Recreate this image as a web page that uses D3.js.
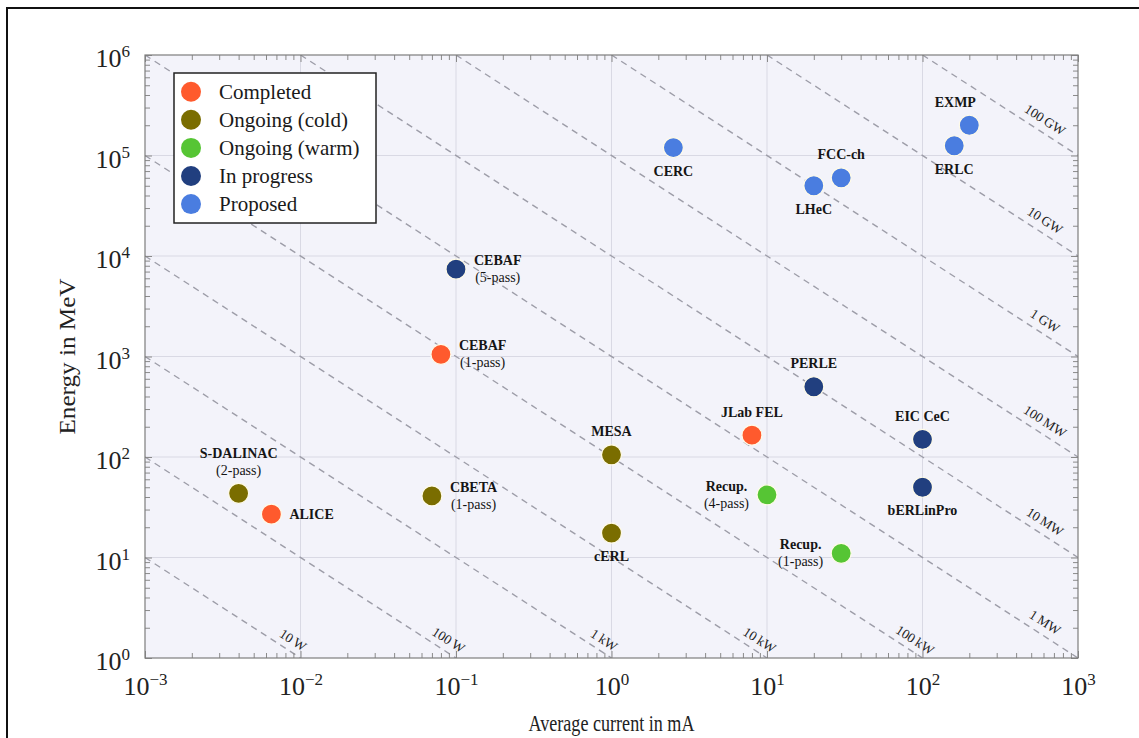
<!DOCTYPE html>
<html>
<head>
<meta charset="utf-8">
<script src="https://cdn.jsdelivr.net/npm/d3@7"></script>
<style>
  html, body { margin: 0; padding: 0; background: #fff; }
  svg { display: block; }
</style>
</head>
<body>
<svg id="chart" width="1139" height="738"></svg>
<script>
// Energy-recovery linacs: beam energy against average beam current,
// with lines of constant beam power.

const facilities = ["ALICE", "S-DALINAC", "CBETA", "CEBAF", "CEBAF", "MESA", "cERL",
  "JLab FEL", "Recup.", "Recup.", "PERLE", "EIC CeC", "bERLinPro",
  "CERC", "LHeC", "FCC-ch", "ERLC", "EXMP"];
const subtitles = ["", "(2-pass)", "(1-pass)", "(1-pass)", "(5-pass)", "", "",
  "", "(4-pass)", "(1-pass)", "", "", "",
  "", "", "", "", ""];
const currentMA = [0.0065, 0.004, 0.07, 0.08, 0.1, 1, 1,
  8, 10, 30, 20, 100, 100,
  2.5, 20, 30, 160, 200];
const energyMeV = [27, 43.5, 41, 1050, 7400, 105, 17.5,
  165, 42, 11, 500, 150, 50,
  120000, 50000, 60000, 125000, 200000];
const statusIndex = [0, 1, 1, 0, 3, 1, 1,
  0, 2, 2, 3, 3, 3,
  4, 4, 4, 4, 4];
const statusNames = ["Completed", "Ongoing (cold)", "Ongoing (warm)", "In progress", "Proposed"];

// constant-power lines, P = I * E  (mA * MeV = kW)
const powerKW = [0.01, 0.1, 1, 10, 100, 1e3, 1e4, 1e5, 1e6, 1e7, 1e8];
const powerLabels = ["10\u2009W", "100\u2009W", "1\u2009kW", "10\u2009kW", "100\u2009kW",
  "1\u2009MW", "10\u2009MW", "100\u2009MW", "1\u2009GW", "10\u2009GW", "100\u2009GW"];

const xTickExponents = [-3, -2, -1, 0, 1, 2, 3];
const yTickExponents = [0, 1, 2, 3, 4, 5, 6];

// ---- layout and styling ----
const statusColors = ["#ff5a2d", "#7a6d00", "#56c534", "#213f7f", "#4a7de0"];
const labelSide = ["right", "above", "right", "right", "right", "above", "below",
  "above", "left", "left", "above", "above", "below",
  "below", "below", "above", "below", "above"];
const labelShiftX = { 17: -14 };

const serif = "'Liberation Serif', 'Times New Roman', serif";
const plot = { left: 145, top: 55, right: 1078, bottom: 658 };

const svg = d3.select("#chart");

// outer frame
svg.append("rect")
  .attr("x", 7).attr("y", 8).attr("width", 1200).attr("height", 800)
  .attr("fill", "none").attr("stroke", "#111").attr("stroke-width", 2);

const x = d3.scaleLog().domain([1e-3, 1e3]).range([plot.left, plot.right]);
const y = d3.scaleLog().domain([1, 1e6]).range([plot.bottom, plot.top]);

// plot background
svg.append("rect")
  .attr("x", plot.left).attr("y", plot.top)
  .attr("width", plot.right - plot.left).attr("height", plot.bottom - plot.top)
  .attr("fill", "#f3f3fa");

svg.append("clipPath").attr("id", "plotClip")
  .append("rect")
  .attr("x", plot.left).attr("y", plot.top)
  .attr("width", plot.right - plot.left).attr("height", plot.bottom - plot.top);

// major grid
const xMajor = xTickExponents.map(e => Math.pow(10, e));
const yMajor = yTickExponents.map(e => Math.pow(10, e));
const grid = svg.append("g").attr("stroke", "#d9d9e4").attr("stroke-width", 1);
grid.selectAll("line.gx").data(xMajor.slice(1, -1)).join("line").attr("class", "gx")
  .attr("x1", d => x(d)).attr("x2", d => x(d))
  .attr("y1", plot.top).attr("y2", plot.bottom);
grid.selectAll("line.gy").data(yMajor.slice(1, -1)).join("line").attr("class", "gy")
  .attr("y1", d => y(d)).attr("y2", d => y(d))
  .attr("x1", plot.left).attr("x2", plot.right);

// minor tick values (2..9 per decade)
function minorValues(exps) {
  const out = [];
  for (let i = 0; i < exps.length - 1; i++) {
    for (let k = 2; k <= 9; k++) out.push(k * Math.pow(10, exps[i]));
  }
  return out;
}
const xMinor = minorValues(xTickExponents);
const yMinor = minorValues(yTickExponents);

// constant-power lines
const powerGroup = svg.append("g").attr("clip-path", "url(#plotClip)");
const angle = Math.atan2(y(1) - y(10), x(10) - x(1));   // slope of the lines in pixels
const ux = Math.cos(angle), uy = Math.sin(angle);
powerKW.forEach((p, i) => {
  const i0 = Math.max(1e-3, p / 1e6);
  const i1 = Math.min(1e3, p / 1);
  const x0 = x(i0), y0 = y(p / i0), x1 = x(i1), y1 = y(p / i1);
  powerGroup.append("line")
    .attr("x1", x0).attr("y1", y0).attr("x2", x1).attr("y2", y1)
    .attr("stroke", "#9d9da8").attr("stroke-width", 1.4)
    .attr("stroke-dasharray", "6.5,5");
  const endsAtBottom = i1 < 1e3;
  const back = endsAtBottom ? 16 : 47;
  const perp = endsAtBottom ? 11 : 12;
  const lx = x1 - back * ux + perp * uy;
  const ly = y1 - back * uy - perp * ux;
  svg.append("text")
    .attr("transform", `translate(${lx},${ly}) rotate(${angle * 180 / Math.PI})`)
    .attr("text-anchor", "middle").attr("dy", "0.33em")
    .attr("font-family", serif).attr("font-size", 13.5).attr("fill", "#222")
    .text(powerLabels[i]);
});

// axes: major and minor ticks inside the frame on all sides
const tickColor = "#8a8a8a";
function styleAxis(g) {
  g.select(".domain").remove();
  g.selectAll(".tick line").attr("stroke", tickColor);
}
function supLabel(sel) {
  sel.selectAll(".tick text").each(function (d) {
    const t = d3.select(this);
    const e = Math.round(Math.log10(d));
    t.text(null);
    t.append("tspan").text("10");
    t.append("tspan").attr("dy", -10).attr("font-size", 17)
      .text(e < 0 ? "\u2212" + (-e) : String(e));
  });
}

svg.append("g").attr("transform", `translate(0,${plot.bottom})`)
  .call(d3.axisBottom(x).tickValues(xMinor).tickSize(-5).tickFormat(""))
  .call(styleAxis);
svg.append("g").attr("transform", `translate(0,${plot.top})`)
  .call(d3.axisTop(x).tickValues(xMinor).tickSize(-5).tickFormat(""))
  .call(styleAxis);
svg.append("g").attr("transform", `translate(${plot.left},0)`)
  .call(d3.axisLeft(y).tickValues(yMinor).tickSize(-5).tickFormat(""))
  .call(styleAxis);
svg.append("g").attr("transform", `translate(${plot.right},0)`)
  .call(d3.axisRight(y).tickValues(yMinor).tickSize(-5).tickFormat(""))
  .call(styleAxis);

const xAxis = svg.append("g").attr("transform", `translate(0,${plot.bottom})`)
  .call(d3.axisBottom(x).tickValues(xMajor).tickSize(-7).tickPadding(19).tickFormat(d => d))
  .call(styleAxis);
xAxis.selectAll(".tick text")
  .attr("font-family", serif).attr("font-size", 26).attr("fill", "#222");
supLabel(xAxis);

const yAxis = svg.append("g").attr("transform", `translate(${plot.left},0)`)
  .call(d3.axisLeft(y).tickValues(yMajor).tickSize(-7).tickPadding(15).tickFormat(d => d))
  .call(styleAxis);
yAxis.selectAll(".tick text")
  .attr("font-family", serif).attr("font-size", 26).attr("fill", "#222").attr("dy", "0.45em");
supLabel(yAxis);

svg.append("g").attr("transform", `translate(0,${plot.top})`)
  .call(d3.axisTop(x).tickValues(xMajor).tickSize(-7).tickFormat(""))
  .call(styleAxis);
svg.append("g").attr("transform", `translate(${plot.right},0)`)
  .call(d3.axisRight(y).tickValues(yMajor).tickSize(-7).tickFormat(""))
  .call(styleAxis);

// frame
svg.append("rect")
  .attr("x", plot.left).attr("y", plot.top)
  .attr("width", plot.right - plot.left).attr("height", plot.bottom - plot.top)
  .attr("fill", "none").attr("stroke", "#7d7d7d").attr("stroke-width", 1.2);

// axis titles
svg.append("text")
  .attr("x", (plot.left + plot.right) / 2).attr("y", 731)
  .attr("text-anchor", "middle")
  .attr("font-family", serif).attr("font-size", 24).attr("fill", "#222")
  .attr("textLength", 166).attr("lengthAdjust", "spacingAndGlyphs")
  .text("Average current in mA");
svg.append("text")
  .attr("transform", `translate(75,${(plot.top + plot.bottom) / 2}) rotate(-90)`)
  .attr("text-anchor", "middle")
  .attr("font-family", serif).attr("font-size", 23).attr("fill", "#222")
  .attr("textLength", 156).attr("lengthAdjust", "spacingAndGlyphs")
  .text("Energy in MeV");

// data points
const idx = d3.range(facilities.length);
svg.append("g").selectAll("circle").data(idx).join("circle")
  .attr("cx", i => x(currentMA[i])).attr("cy", i => y(energyMeV[i]))
  .attr("r", 10)
  .attr("fill", i => statusColors[statusIndex[i]])
  .attr("stroke", "#fffbe8").attr("stroke-width", 1.2);

// point labels
const labels = svg.append("g").attr("font-family", serif).attr("fill", "#151515");
idx.forEach(i => {
  const px = x(currentMA[i]), py = y(energyMeV[i]);
  const lines = [{ text: facilities[i], bold: true }];
  if (subtitles[i]) lines.push({ text: subtitles[i], bold: false });
  const side = labelSide[i];
  const g = labels.append("g");
  const texts = lines.map(l => g.append("text")
    .attr("font-size", 14)
    .attr("font-weight", l.bold ? "bold" : "normal")
    .attr("text-anchor", "middle")
    .text(l.text));
  const w = d3.max(texts, t => t.node().getComputedTextLength());
  const lineGap = 17;
  let cx = px, centers;
  if (side === "above") {
    centers = lines.map((l, k) => py - 23 - (lines.length - 1 - k) * lineGap);
  } else if (side === "below") {
    centers = lines.map((l, k) => py + 23.5 + k * lineGap);
  } else {
    const first = py - (lines.length - 1) * lineGap / 2;
    centers = lines.map((l, k) => first + k * lineGap);
    cx = side === "right" ? px + 18 + w / 2 : px - 18 - w / 2;
  }
  cx += labelShiftX[i] || 0;
  texts.forEach((t, k) => t.attr("x", cx).attr("y", centers[k]).attr("dy", "0.33em"));
});

// legend
const legend = svg.append("g");
legend.append("rect")
  .attr("x", 174).attr("y", 73).attr("width", 202).attr("height", 150)
  .attr("fill", "#fff").attr("stroke", "#222").attr("stroke-width", 1.5);
statusNames.forEach((name, k) => {
  const cy = 91.7 + k * 28.1;
  legend.append("circle").attr("cx", 191).attr("cy", cy).attr("r", 10)
    .attr("fill", statusColors[k]);
  legend.append("text").attr("x", 219).attr("y", cy).attr("dy", "0.33em")
    .attr("font-family", serif).attr("font-size", 21).attr("fill", "#1a1a1a")
    .text(name);
});
</script>
</body>
</html>
